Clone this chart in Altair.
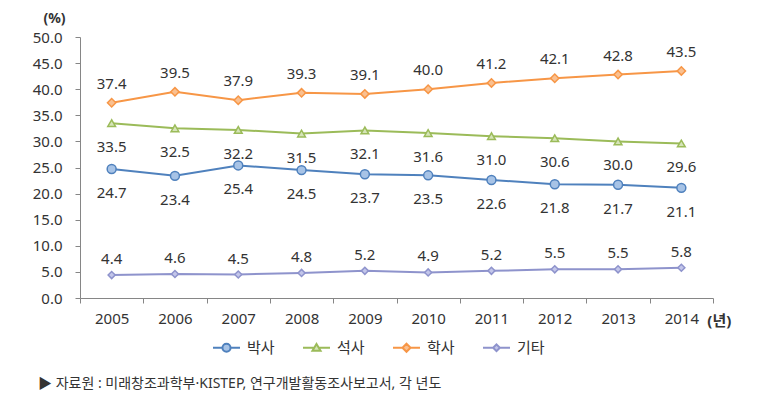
import altair as alt
import pandas as pd

years = ["2005", "2006", "2007", "2008", "2009", "2010", "2011", "2012", "2013", "2014"]
series = ["박사", "석사", "학사", "기타"]
phd = [24.7, 23.4, 25.4, 24.5, 23.7, 23.5, 22.6, 21.8, 21.7, 21.1]
master = [33.5, 32.5, 32.2, 31.5, 32.1, 31.6, 31.0, 30.6, 30.0, 29.6]
bachelor = [37.4, 39.5, 37.9, 39.3, 39.1, 40.0, 41.2, 42.1, 42.8, 43.5]
other = [4.4, 4.6, 4.5, 4.8, 5.2, 4.9, 5.2, 5.5, 5.5, 5.8]
y_ticks = [0, 5, 10, 15, 20, 25, 30, 35, 40, 45, 50]
Y_UNIT = "(%)"
X_UNIT = "(년)"
SOURCE = "▶ 자료원 : 미래창조과학부·KISTEP, 연구개발활동조사보고서, 각 년도"

FONT = "'Noto Sans', 'Noto Sans CJK KR', sans-serif"
TXT = "#333333"
AX = "#868686"

line_colors = ["#4F81BD", "#9BBB59", "#F79646", "#8E93CC"]
fill_colors = ["#A7C3E6", "#D5E4B8", "#FAC090", "#C3C6EA"]
shapes = ["circle", "triangle-up", "diamond", "diamond"]
sizes = [80, 60, 70, 50]
label_dy = [24, 24, -19, -16]
legend_paths = [
    "M-1,0L-0.3,0M0.3,0L1,0M-0.3,0A0.3,0.3,0,1,1,0.3,0A0.3,0.3,0,1,1,-0.3,0Z",
    "M-1,0L-0.2,0M0.2,0L1,0M0,-0.28L0.3,0.22L-0.3,0.22Z",
    "M-1,0L-0.3,0M0.3,0L1,0M0,-0.3L0.3,0L0,0.3L-0.3,0Z",
    "M-1,0L-0.25,0M0.25,0L1,0M0,-0.25L0.25,0L0,0.25L-0.25,0Z",
]

rows = []
for s, vals in zip(series, [phd, master, bachelor, other]):
    for yr, v in zip(years, vals):
        rows.append({"year": yr, "series": s, "value": v})
df = pd.DataFrame(rows)

x_axis = alt.Axis(title=None, labelAngle=0, tickBand="extent", domainColor=AX, tickColor=AX,
                  tickSize=5, labelFontSize=15, labelFont=FONT, labelColor=TXT, labelPadding=8,
                  grid=False, domainWidth=1)
y_axis = alt.Axis(values=y_ticks, format=".1f", title=Y_UNIT, titleAngle=0, titleX=-26, titleY=-19,
                  titleAlign="center", titleBaseline="middle", titleFontWeight="bold",
                  titleFontSize=14, titleFont=FONT, titleColor=TXT, labelFontSize=15,
                  labelFont=FONT, labelColor=TXT, labelPadding=13, tickSize=5, tickColor=AX,
                  domainColor=AX, grid=False)

x_enc = alt.X("year:N", scale=alt.Scale(type="band", domain=years, paddingInner=0, paddingOuter=0),
              bandPosition=0.5, axis=x_axis)
y_enc = alt.Y("value:Q", scale=alt.Scale(domain=[0, 50], nice=False), axis=y_axis)

layers = []
for i, s in enumerate(series):
    base = alt.Chart(df).transform_filter(alt.datum.series == s)
    layers.append(base.mark_line(color=line_colors[i], strokeWidth=2).encode(x=x_enc, y=y_enc))
    layers.append(base.mark_point(shape=shapes[i], size=sizes[i], filled=True, fill=fill_colors[i],
                                  stroke=line_colors[i], strokeWidth=1.5, opacity=1)
                  .encode(x=x_enc, y=y_enc))
    layers.append(base.mark_text(dy=label_dy[i], fontSize=15, font=FONT, color=TXT)
                  .encode(x=x_enc, y=y_enc, text=alt.Text("value:Q", format=".1f")))

legend = alt.Legend(title=None, orient="none", legendX=132, legendY=296, direction="horizontal",
                    symbolSize=729, symbolStrokeWidth=2, labelFontSize=15, labelFont=FONT,
                    labelColor=TXT, labelOffset=6, columnPadding=24, padding=0, symbolLimit=0)
leg = alt.Chart(df).transform_filter("false").mark_point(filled=True, opacity=1, strokeWidth=2).encode(
    shape=alt.Shape("series:N", scale=alt.Scale(domain=series, range=legend_paths), legend=legend),
    fill=alt.Fill("series:N", scale=alt.Scale(domain=series, range=fill_colors), legend=legend),
    stroke=alt.Stroke("series:N", scale=alt.Scale(domain=series, range=line_colors), legend=legend),
)
layers.append(leg)

unit = alt.Chart(pd.DataFrame({"year": ["2014"], "t": [X_UNIT]})).mark_text(
    dx=38, fontWeight="bold", fontSize=15, font=FONT, color=TXT, baseline="middle"
).encode(x=x_enc, y=alt.value(284), text="t:N")
layers.append(unit)

src = alt.Chart(pd.DataFrame({"t": [SOURCE]})).mark_text(
    align="left", baseline="middle", fontSize=14, font=FONT, color=TXT
).encode(x=alt.value(-42), y=alt.value(347), text="t:N")
layers.append(src)

chart = alt.layer(*layers).properties(
    width=633, height=261,
    padding={"left": 72, "top": 29, "right": 49, "bottom": 102},
    autosize=alt.AutoSizeParams(type="none"),
).configure_view(stroke=None)

chart.save("out.html", embed_options={"renderer": "svg", "actions": False})
